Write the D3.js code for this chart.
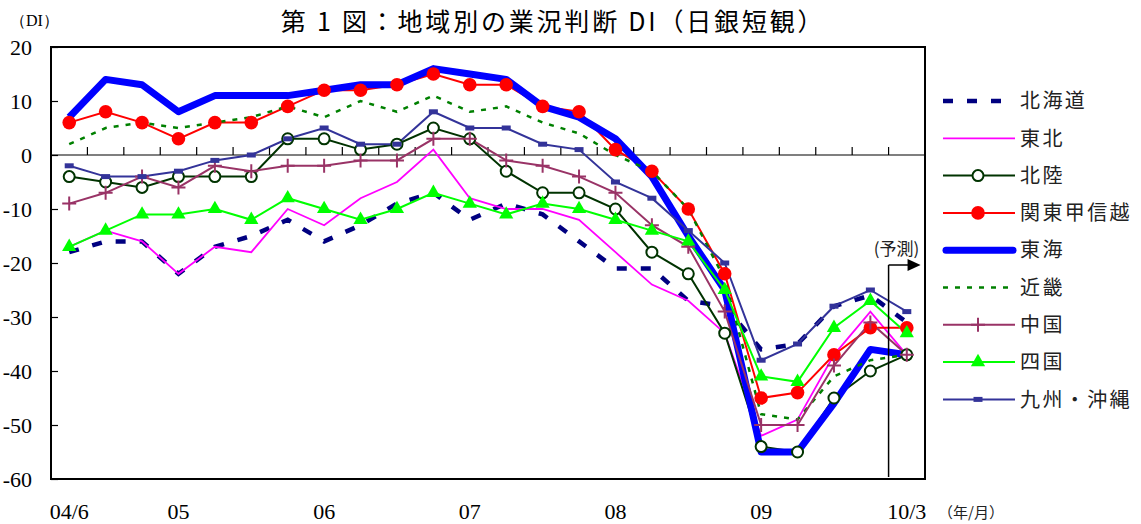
<!DOCTYPE html>
<html>
  <head>
    <meta charset="utf-8">
    <title>地域別の業況判断 DI</title>
    <script src="https://cdn.jsdelivr.net/npm/d3@7"></script>
    <style>
      body { margin: 0; background: #fff; }
      svg { display: block; }
    </style>
  </head>
  <body>
    <script type="text/javascript">
     // quarters, 2004/6 .. 2010/3 (last one is the forecast)
     let quarters = ["04/6", "04/9", "04/12", "05/3", "05/6", "05/9", "05/12", "06/3",
                     "06/6", "06/9", "06/12", "07/3", "07/6", "07/9", "07/12", "08/3",
                     "08/6", "08/9", "08/12", "09/3", "09/6", "09/9", "09/12", "10/3"];

     let hokkaido = [-18, -16, -16, -22, -17, -15, -12, -16, -13, -9, -7, -12,
                     -9, -11, -16, -21, -21, -27, -28, -36, -35, -28, -26, -31];
     let tohoku   = [-17, -14, -16, -22, -17, -18, -10, -13, -8, -5, 1, -8,
                     -10, -10, -12, -18, -24, -27, -33, -52, -49, -37, -29, -37];
     let hokuriku = [-4, -5, -6, -4, -4, -4, 3, 3, 1, 2, 5, 3,
                     -3, -7, -7, -10, -18, -22, -33, -54, -55, -45, -40, -37];
     let kanto    = [6, 8, 6, 3, 6, 6, 9, 12, 12, 13, 15, 13,
                     13, 9, 8, 1, -3, -10, -22, -45, -44, -37, -32, -32];
     let tokai    = [7, 14, 13, 8, 11, 11, 11, 12, 13, 13, 16, 15,
                     14, 9, 7, 3, -4, -15, -25, -55, -55, -46, -36, -37];
     let kinki    = [2, 5, 6, 5, 6, 7, 9, 7, 10, 8, 11, 8,
                     9, 6, 4, 0, -3, -10, -23, -48, -49, -41, -38, -37];
     let chugoku  = [-9, -7, -4, -6, -2, -3, -2, -2, -1, -1, 3, 3,
                     -1, -2, -4, -7, -13, -17, -29, -50, -50, -39, -31, -37];
     let shikoku  = [-17, -14, -11, -11, -10, -12, -8, -10, -12, -10, -7, -9,
                     -11, -9, -10, -12, -14, -16, -25, -41, -42, -32, -27, -33];
     let kyushu   = [-2, -4, -4, -3, -1, 0, 3, 5, 2, 2, 8, 5,
                     5, 2, 1, -5, -8, -14, -20, -38, -35, -28, -25, -29];

     let regionNames = ["北海道", "東北", "北陸", "関東甲信越", "東海", "近畿", "中国", "四国", "九州・沖縄"];

     let yTicks = [20, 10, 0, -10, -20, -30, -40, -50, -60];
     let xTickQuarters = ["04/6", "05/3", "06/3", "07/3", "08/3", "09/3", "10/3"];
     let xTickLabels = ["04/6", "05", "06", "07", "08", "09", "10/3"];

     // series table: data + how each one is drawn
     let series = [
       {name: regionNames[0], values: hokkaido, color: "#000080", width: 4.5, dash: "10,14", marker: null},
       {name: regionNames[1], values: tohoku,   color: "#ff00ff", width: 1.8, dash: null, marker: null},
       {name: regionNames[2], values: hokuriku, color: "#003300", width: 2,   dash: null, marker: "open"},
       {name: regionNames[3], values: kanto,    color: "#ff0000", width: 2,   dash: null, marker: "dot"},
       {name: regionNames[4], values: tokai,    color: "#0000ff", width: 7,   dash: null, marker: null},
       {name: regionNames[5], values: kinki,    color: "#008000", width: 2.5, dash: "5,7", marker: null},
       {name: regionNames[6], values: chugoku,  color: "#993366", width: 2,   dash: null, marker: "plus"},
       {name: regionNames[7], values: shikoku,  color: "#00ff00", width: 2,   dash: null, marker: "tri"},
       {name: regionNames[8], values: kyushu,   color: "#333399", width: 2,   dash: null, marker: "bar"}
     ];

     let w = 1141;
     let h = 524;
     let plot = {left: 51, right: 925, top: 47, bottom: 479};
     let jp = "'Noto Sans CJK JP', 'Noto Sans', sans-serif";
     let serif = "'Liberation Serif', 'DejaVu Serif', serif";

     let svg = d3.select("body").append("svg")
                 .attr("width", w)
                 .attr("height", h);

     let x = d3.scaleBand()
               .domain(quarters)
               .range([plot.left, plot.right]);
     let cx = (q) => x(q) + x.bandwidth() / 2;
     let y = d3.scaleLinear()
               .domain([-60, 20])
               .range([plot.bottom, plot.top]);

     // title
     svg.append("text")
        .attr("x", 553)
        .attr("y", 31)
        .attr("text-anchor", "middle")
        .attr("font-family", jp)
        .attr("font-size", 25)
        .attr("font-weight", 400)
        .attr("letter-spacing", 2.8)
        .text("第 1 図：地域別の業況判断 DI（日銀短観）");

     svg.append("text")
        .attr("x", 10)
        .attr("y", 26)
        .attr("font-family", serif)
        .attr("font-size", 16)
        .text("（DI）");

     // zero line with the little quarter ticks
     svg.append("line")
        .attr("x1", plot.left).attr("x2", plot.right)
        .attr("y1", y(0)).attr("y2", y(0))
        .attr("stroke", "#000").attr("stroke-width", 1.2);
     svg.selectAll(".qtick")
        .data(quarters.slice(1))
        .enter()
        .append("line")
        .attr("class", "qtick")
        .attr("x1", (d) => x(d)).attr("x2", (d) => x(d))
        .attr("y1", y(0)).attr("y2", y(0) - 8)
        .attr("stroke", "#000").attr("stroke-width", 1.2);

     // y axis, ticks pointing inside
     let yAxis = d3.axisLeft(y)
                   .tickValues(yTicks)
                   .tickSizeInner(-7)
                   .tickSizeOuter(0)
                   .tickPadding(19)
                   .tickFormat((d) => String(d));
     let gy = svg.append("g")
                 .attr("transform", "translate(" + plot.left + ",0)")
                 .call(yAxis);
     gy.select(".domain").remove();
     gy.selectAll("text")
       .attr("font-family", serif)
       .attr("font-size", 22)
       .attr("fill", "#000");
     gy.selectAll("line").attr("stroke-width", 1.2);

     // x labels
     let xAxis = d3.axisBottom(x)
                   .tickValues(xTickQuarters)
                   .tickSize(0)
                   .tickPadding(0)
                   .tickFormat((d) => xTickLabels[xTickQuarters.indexOf(d)]);
     let gx = svg.append("g")
                 .attr("transform", "translate(0,503)")
                 .call(xAxis);
     gx.select(".domain").remove();
     gx.selectAll("text")
       .attr("font-family", serif)
       .attr("font-size", 22)
       .attr("fill", "#000");

     svg.append("text")
        .attr("x", 938)
        .attr("y", 518)
        .attr("font-family", jp)
        .attr("font-size", 15)
        .attr("fill", "#222")
        .text("（年/月）");

     // series lines
     let line = d3.line()
                  .x((d, i) => cx(quarters[i]))
                  .y((d) => y(d));

     svg.selectAll(".series")
        .data(series)
        .enter()
        .append("path")
        .attr("class", "series")
        .attr("d", (s) => line(s.values))
        .attr("fill", "none")
        .attr("stroke", (s) => s.color)
        .attr("stroke-width", (s) => s.width)
        .attr("stroke-dasharray", (s) => s.dash)
        .attr("stroke-linejoin", (s) => s.width > 5 ? "round" : "miter");

     // markers on top of all lines
     function drawMarker(g, kind, color) {
       if (kind === "open") {
         g.append("circle").attr("r", 5.5)
          .attr("fill", "#fff").attr("stroke", color).attr("stroke-width", 2);
       } else if (kind === "dot") {
         g.append("circle").attr("r", 6.8).attr("fill", color);
       } else if (kind === "plus") {
         g.append("path").attr("d", "M-7,0H7M0,-7V7")
          .attr("stroke", color).attr("stroke-width", 2);
       } else if (kind === "tri") {
         g.append("path")
          .attr("d", d3.symbol().type(d3.symbolTriangle).size(88)())
          .attr("fill", color);
       } else if (kind === "bar") {
         g.append("rect").attr("x", -4.5).attr("y", -2.5)
          .attr("width", 9).attr("height", 5).attr("fill", color);
       }
     }

     series.filter((s) => s.marker).forEach((s) => {
       svg.append("g")
          .selectAll("g")
          .data(s.values)
          .enter()
          .append("g")
          .attr("transform", (d, i) => "translate(" + cx(quarters[i]) + "," + y(d) + ")")
          .each(function() { drawMarker(d3.select(this), s.marker, s.color); });
     });

     // plot frame
     svg.append("rect")
        .attr("x", plot.left).attr("y", plot.top)
        .attr("width", plot.right - plot.left)
        .attr("height", plot.bottom - plot.top)
        .attr("fill", "none")
        .attr("stroke", "#000")
        .attr("stroke-width", 2);

     // forecast marker
     let fx = x(quarters[quarters.length - 1]);
     svg.append("line")
        .attr("x1", fx).attr("x2", fx)
        .attr("y1", 265).attr("y2", plot.bottom - 2)
        .attr("stroke", "#000").attr("stroke-width", 1.5);
     svg.append("line")
        .attr("x1", fx).attr("x2", fx + 20)
        .attr("y1", 265).attr("y2", 265)
        .attr("stroke", "#000").attr("stroke-width", 1.5);
     svg.append("path")
        .attr("d", "M" + (fx + 19) + ",259L" + (fx + 32) + ",265L" + (fx + 19) + ",271Z")
        .attr("fill", "#000");
     svg.append("text")
        .attr("x", fx + 8)
        .attr("y", 255)
        .attr("text-anchor", "middle")
        .attr("font-family", jp)
        .attr("font-size", 17)
        .attr("fill", "#222")
        .text("(予測)");

     // legend
     let legend = svg.append("g")
                     .selectAll("g")
                     .data(series)
                     .enter()
                     .append("g")
                     .attr("transform", (s, i) => "translate(943," + (101 + i * 37.3) + ")");
     legend.append("line")
           .attr("x1", (s) => s.width > 5 ? 3 : 0)
           .attr("x2", (s) => s.width > 5 ? 70 : 72)
           .attr("stroke", (s) => s.color)
           .attr("stroke-width", (s) => s.width)
           .attr("stroke-dasharray", (s) => s.dash)
           .attr("stroke-linecap", (s) => s.width > 5 ? "round" : "butt");
     legend.each(function(s) {
       if (s.marker) {
         let m = d3.select(this).append("g").attr("transform", "translate(35,0)");
         drawMarker(m, s.marker, s.color);
       }
     });
     legend.append("text")
           .attr("x", 77)
           .attr("y", 0)
           .attr("dy", "0.36em")
           .attr("font-family", jp)
           .attr("font-size", 20)
           .attr("letter-spacing", 2.4)
           .attr("fill", "#222")
           .text((s) => s.name);
    </script>
  </body>
</html>
